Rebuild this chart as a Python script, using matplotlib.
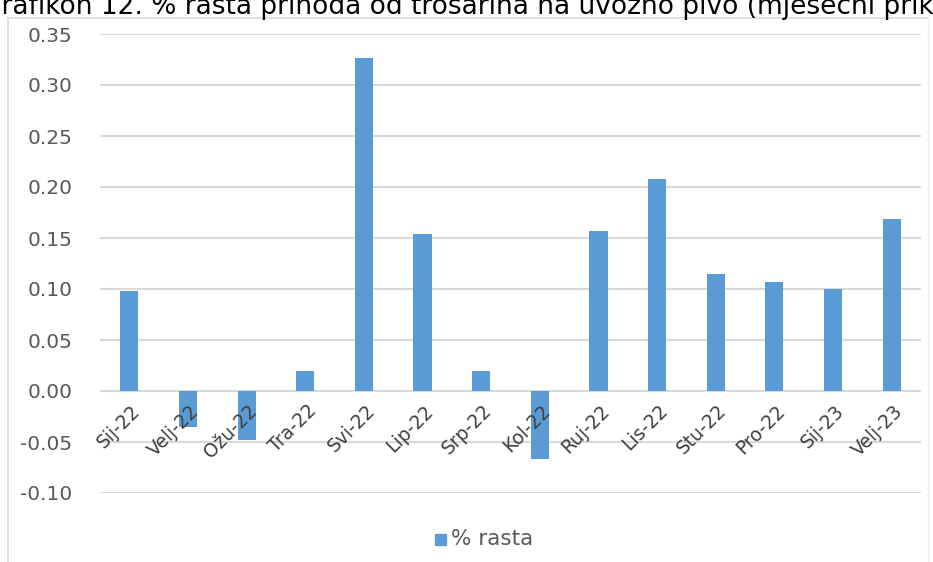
import matplotlib
matplotlib.use("Agg")
import matplotlib.pyplot as plt
from matplotlib.lines import Line2D
from matplotlib.patches import Rectangle

categories = ["Sij-22", "Velj-22", "Ožu-22", "Tra-22", "Svi-22", "Lip-22", "Srp-22",
              "Kol-22", "Ruj-22", "Lis-22", "Stu-22", "Pro-22", "Sij-23", "Velj-23"]
values = [0.098, -0.035, -0.048, 0.020, 0.326, 0.154, 0.020,
          -0.067, 0.157, 0.208, 0.115, 0.107, 0.100, 0.169]
yticks = [-0.10, -0.05, 0.00, 0.05, 0.10, 0.15, 0.20, 0.25, 0.30, 0.35]
series_name = "% rasta"
title = "Grafikon 12. % rasta prihoda od trošarina na uvozno pivo (mjesečni prikaz)"

W, H = 933, 562
fig = plt.figure(figsize=(W / 100, H / 100), dpi=100)
plt.rcParams['font.family'] = ['DejaVu Sans']

BAR = "#5B9BD5"
GRID = "#D9D9D9"
TXT = "#595959"

# chart border
fig.add_artist(Line2D([8 / W, 8 / W], [0, 1 - 18 / H], color=GRID, lw=1.2, transform=fig.transFigure))
fig.add_artist(Line2D([8 / W, 928 / W], [1 - 18 / H, 1 - 18 / H], color=GRID, lw=1.2, transform=fig.transFigure))
fig.add_artist(Line2D([928 / W, 928 / W], [0, 1 - 18 / H], color="#EDEDED", lw=1.0, transform=fig.transFigure))

# title (cut at top, as in the reference)
fig.text(-19 / W, 1 - 14 / H, title, fontsize=19, color="black", ha="left", va="baseline")

left, right = 100 / W, 921 / W
top, bottom = 1 - 34 / H, 1 - 493 / H
ax = fig.add_axes([left, bottom, right - left, top - bottom])

x = list(range(len(categories)))
ax.bar(x, values, width=0.31, color=BAR, zorder=3)
ax.set_xlim(-0.5, len(categories) - 0.5)
ax.set_ylim(yticks[0], yticks[-1])
ax.set_yticks(yticks)
ax.set_yticklabels([f"{v:.2f}" for v in yticks], fontsize=14.5, color=TXT)
ax.tick_params(axis="y", length=0, pad=20)
ax.set_xticks([])
ax.grid(axis="y", color=GRID, lw=1.5, zorder=0)
for s in ax.spines.values():
    s.set_visible(False)

for i, lab in enumerate(categories):
    ax.text(i + 0.02, -0.010, lab, rotation=45, rotation_mode="anchor",
            ha="right", va="top", fontsize=13.5, color="#404040", zorder=4)

# legend
fig.add_artist(Rectangle((435 / W, 1 - 545 / H), 11 / W, 11 / H, color=BAR, transform=fig.transFigure))
fig.text(451 / W, 1 - 539 / H, series_name, fontsize=15.5, color=TXT, ha="left", va="center")

fig.savefig("out.png", dpi=100)
